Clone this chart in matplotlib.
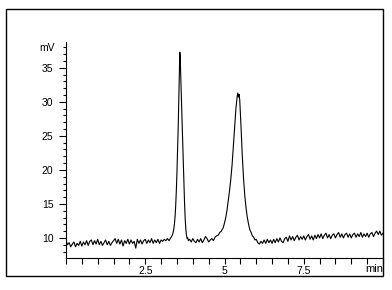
import matplotlib
matplotlib.use("Agg")
import matplotlib.pyplot as plt
from matplotlib.patches import Rectangle
from matplotlib.ticker import MultipleLocator

# chromatogram: time in min, signal in mV
t_base1 = [0.00, 0.05, 0.10, 0.15, 0.20, 0.25, 0.30, 0.35, 0.40, 0.45,
           0.50, 0.55, 0.60, 0.65, 0.70, 0.75, 0.80, 0.85, 0.90, 0.95,
           1.00, 1.05, 1.10, 1.15, 1.20, 1.25, 1.30, 1.35, 1.40, 1.45,
           1.50, 1.55, 1.60, 1.65, 1.70, 1.75, 1.80, 1.85, 1.90, 1.95,
           2.00, 2.05, 2.10, 2.15, 2.20, 2.25, 2.30, 2.35, 2.40, 2.45,
           2.50, 2.55, 2.60, 2.65, 2.70, 2.75, 2.80, 2.85, 2.90, 2.95,
           3.00, 3.05, 3.10, 3.15, 3.20, 3.25, 3.30]
mv_base1 = [9.6, 9.0, 9.3, 8.7, 9.1, 9.4, 8.7, 9.2, 8.9, 9.5,
            8.8, 9.4, 9.0, 9.6, 8.9, 9.5, 9.7, 9.0, 9.6, 9.1,
            9.8, 9.0, 9.5, 8.9, 9.3, 9.7, 9.0, 9.5, 8.9, 9.3,
            9.6, 9.9, 9.2, 9.8, 9.1, 9.7, 8.8, 9.6, 9.2, 9.8,
            9.1, 9.7, 9.2, 9.5, 8.5, 9.8, 9.2, 9.7, 9.1, 9.6,
            9.8, 9.2, 9.7, 9.3, 9.9, 9.2, 9.7, 9.3, 9.8, 9.2,
            9.7, 9.5, 9.8, 9.6, 9.9, 9.6, 10.0]

t_peak1 = [3.32, 3.34, 3.36, 3.38, 3.40, 3.42, 3.44, 3.46, 3.48, 3.50,
           3.52, 3.54, 3.56, 3.58, 3.59, 3.60, 3.62, 3.64, 3.66, 3.68,
           3.70, 3.72, 3.74, 3.76, 3.78, 3.80, 3.82, 3.84, 3.86]
mv_peak1 = [10.1, 10.3, 10.5, 10.8, 11.3, 12.0, 13.1, 14.7, 16.9, 19.6,
            22.8, 26.4, 30.6, 35.0, 37.3, 36.9, 34.0, 30.6, 27.3, 24.3,
            21.2, 18.0, 15.1, 12.8, 11.3, 10.4, 9.9, 10.0, 9.6]

t_mid = [3.90, 3.95, 4.00, 4.05, 4.10, 4.15, 4.20, 4.25, 4.30, 4.35,
         4.40, 4.45, 4.50, 4.55, 4.60, 4.65, 4.70, 4.75, 4.80, 4.85, 4.90]
mv_mid = [9.8, 9.4, 9.9, 9.5, 9.3, 9.8, 9.4, 9.9, 9.3, 9.7,
          10.2, 9.9, 9.4, 9.7, 9.9, 9.6, 10.1, 10.3, 10.4, 10.8, 11.0]

t_peak2 = [4.92, 4.96, 5.00, 5.04, 5.08, 5.12, 5.16, 5.20, 5.24, 5.28,
           5.32, 5.36, 5.40, 5.42, 5.44, 5.46, 5.48, 5.52, 5.56, 5.60,
           5.64, 5.68, 5.72, 5.76, 5.80, 5.84, 5.88, 5.92, 5.96]
mv_peak2 = [11.2, 11.5, 12.2, 13.0, 14.1, 15.5, 17.0, 18.7, 20.8, 23.5,
            26.4, 29.0, 30.8, 31.3, 30.7, 31.1, 30.3, 26.5, 22.2, 18.8,
            16.2, 14.4, 13.0, 12.0, 11.2, 10.8, 10.3, 10.1, 9.7]

t_base2 = [6.00, 6.05, 6.10, 6.15, 6.20, 6.25, 6.30, 6.35, 6.40, 6.45,
           6.50, 6.55, 6.60, 6.65, 6.70, 6.75, 6.80, 6.85, 6.90, 6.95,
           7.00, 7.05, 7.10, 7.15, 7.20, 7.25, 7.30, 7.35, 7.40, 7.45,
           7.50, 7.55, 7.60, 7.65, 7.70, 7.75, 7.80, 7.85, 7.90, 7.95,
           8.00, 8.05, 8.10, 8.15, 8.20, 8.25, 8.30, 8.35, 8.40, 8.45,
           8.50, 8.55, 8.60, 8.65, 8.70, 8.75, 8.80, 8.85, 8.90, 8.95,
           9.00, 9.05, 9.10, 9.15, 9.20, 9.25, 9.30, 9.35, 9.40, 9.45,
           9.50, 9.55, 9.60, 9.65, 9.70, 9.75, 9.80, 9.85, 9.90, 9.95, 10.00]
mv_base2 = [9.8, 9.3, 9.1, 9.5, 9.2, 9.7, 9.2, 9.8, 9.3, 9.7,
            9.2, 9.8, 9.3, 9.9, 9.4, 10.0, 9.5, 9.3, 9.9, 10.1,
            9.5, 10.3, 9.7, 10.2, 9.6, 10.1, 10.4, 9.7, 10.2, 9.8,
            10.3, 9.7, 10.2, 10.5, 9.8, 10.3, 9.7, 10.4, 9.9, 10.5,
            10.0, 10.6, 9.9, 10.4, 10.7, 10.0, 10.5, 9.9, 10.4, 10.6,
            10.0, 10.5, 10.8, 10.1, 10.6, 10.0, 10.5, 10.7, 10.1, 10.6,
            10.0, 10.5, 10.7, 10.1, 10.6, 10.2, 10.8, 10.1, 10.6, 10.2,
            10.7, 10.1, 10.6, 10.8, 10.2, 10.7, 11.0, 10.5, 11.0, 10.4, 10.7]

time = t_base1 + t_peak1 + t_mid + t_peak2 + t_base2
signal = mv_base1 + mv_peak1 + mv_mid + mv_peak2 + mv_base2

x_labels = ['2.5', '5', '7.5']

plt.rcParams['font.family'] = ['Liberation Sans', 'DejaVu Sans']

W, H = 392, 290
fig = plt.figure(figsize=(W / 100, H / 100), dpi=100)

# outer frame
fig.patches.append(Rectangle((6 / W, 1 - 276 / H), 377 / W, 267 / H,
                             transform=fig.transFigure, fill=False,
                             edgecolor='black', linewidth=1.0))

ax = fig.add_axes([66 / W, 1 - 258 / H, 317 / W, 216 / H])
ax.plot(time, signal, color='black', linewidth=0.8)

ax.set_xlim(0, 10)
ax.set_ylim(7.05, 38.8)

for s in ['top', 'right']:
    ax.spines[s].set_visible(False)
for s in ['left', 'bottom']:
    ax.spines[s].set_linewidth(0.8)

ax.set_xticks([2.5, 5, 7.5])
ax.set_xticklabels(x_labels)
ax.xaxis.set_minor_locator(MultipleLocator(0.5))
ax.tick_params(axis='x', which='both', direction='out', length=4,
               width=0.8, labelsize=7.5, pad=1.5)

ax.yaxis.set_major_locator(MultipleLocator(5))
ax.yaxis.set_minor_locator(MultipleLocator(1))
ax.tick_params(axis='y', which='major', direction='out', length=5,
               width=0.8, labelsize=7.5, pad=4)
ax.tick_params(axis='y', which='minor', direction='out', length=2.5,
               width=0.8)

ax.annotate('mV', xy=(0, 1), xycoords='axes fraction',
            xytext=(-8, -4), textcoords='offset points',
            ha='right', va='center', fontsize=7.5)
ax.annotate('min', xy=(1, 0), xycoords='axes fraction',
            xytext=(0, -8), textcoords='offset points',
            ha='right', va='center', fontsize=8)

fig.savefig('out.png', dpi=100)
